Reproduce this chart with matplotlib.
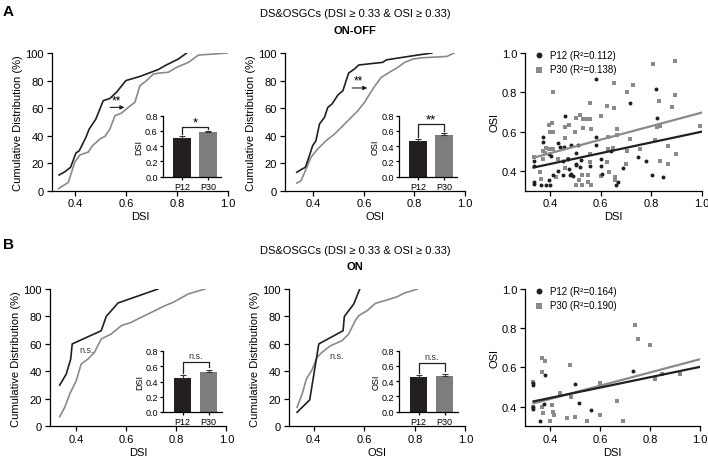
import matplotlib
matplotlib.use('Agg')
import matplotlib.pyplot as plt
import numpy as np

plt.rcParams['font.family'] = ['Liberation Sans', 'DejaVu Sans']
plt.rcParams['axes.linewidth'] = 0.9

BLACK = '#231f20'
GRAY = '#8a8a8a'
BAR_GRAY = '#7d7d7d'
W, H = 708, 460

# ---------------- Panel A (ON-OFF): cumulative distributions ----------------
a_dsi_p12_x = [0.338, 0.361, 0.383, 0.404, 0.417, 0.433, 0.443, 0.456, 0.469, 0.482,
               0.495, 0.511, 0.537, 0.563, 0.600, 0.655, 0.727, 0.753, 0.805, 0.838]
a_dsi_p12_y = [11.4, 13.8, 17, 27.4, 29, 35, 38.7, 44.8, 48.4, 52,
               58, 65.4, 67, 71.5, 80, 83, 88, 90.8, 95.6, 100]
a_dsi_p30_x = [0.335, 0.374, 0.400, 0.420, 0.452, 0.469, 0.498, 0.518, 0.537, 0.557, 0.583,
               0.609, 0.635, 0.655, 0.681, 0.707, 0.733, 0.766, 0.799, 0.845, 0.884, 1.0]
a_dsi_p30_y = [1.5, 6, 21, 26, 28, 32.7, 37.5, 39.5, 44.8, 54.5, 56.4,
               60.5, 64.2, 76.3, 80, 84.7, 85.5, 86, 89.6, 93.2, 98.5, 100]

a_osi_p12_x = [0.334, 0.351, 0.368, 0.384, 0.397, 0.410, 0.424, 0.444, 0.457, 0.474,
               0.497, 0.517, 0.530, 0.540, 0.563, 0.580, 0.675, 0.689, 0.795, 0.870]
a_osi_p12_y = [13.4, 15.3, 17, 25.4, 32.7, 36.3, 48.4, 53.3, 60.5, 63,
               69.5, 72.6, 80, 85.5, 88.4, 91.3, 93.2, 95, 98, 100]
a_osi_p30_x = [0.334, 0.351, 0.368, 0.390, 0.417, 0.450, 0.483, 0.517, 0.543, 0.576, 0.603,
               0.623, 0.643, 0.669, 0.702, 0.735, 0.762, 0.795, 0.830, 0.930, 0.958]
a_osi_p30_y = [5.6, 7.3, 14.5, 24.2, 30.3, 36.3, 41, 47.2, 52, 58, 64.2,
               70.2, 75.8, 82.3, 86, 89.6, 93.2, 95.6, 96.5, 97.5, 100]

# ---------------- Panel B (ON): cumulative distributions ----------------
b_dsi_p12_x = [0.334, 0.360, 0.378, 0.384, 0.500, 0.520, 0.567, 0.727]
b_dsi_p12_y = [30, 38, 49, 60, 69.6, 80, 89.8, 100]
b_dsi_p30_x = [0.334, 0.354, 0.374, 0.400, 0.420, 0.447, 0.473, 0.500, 0.540, 0.580,
               0.620, 0.660, 0.714, 0.754, 0.788, 0.848, 0.915]
b_dsi_p30_y = [7, 13.8, 23.5, 33.2, 45.4, 49, 53.9, 63.6, 67.2, 73.3,
               75.7, 79.4, 84.2, 87.8, 90.3, 96.4, 100]

b_osi_p12_x = [0.334, 0.384, 0.420, 0.516, 0.521, 0.558, 0.582]
b_osi_p12_y = [10.2, 19.2, 60, 69.6, 80, 89, 100]
b_osi_p30_x = [0.334, 0.354, 0.371, 0.393, 0.413, 0.433, 0.466, 0.512, 0.538, 0.564,
               0.578, 0.611, 0.644, 0.690, 0.730, 0.756, 0.810]
b_osi_p30_y = [13.8, 23.5, 34.5, 41, 50.2, 53.9, 58.7, 62.4, 67.2, 76.9,
               80.6, 84.2, 89.6, 92, 94.4, 96.9, 100]

# ---------------- inset bar charts (mean, sem) ----------------
groups = ['P12', 'P30']
a_dsi_mean = [0.51, 0.58]
a_dsi_sem = [0.02, 0.015]
a_osi_mean = [0.47, 0.55]
a_osi_sem = [0.02, 0.02]
b_dsi_mean = [0.44, 0.52]
b_dsi_sem = [0.04, 0.035]
b_osi_mean = [0.45, 0.47]
b_osi_sem = [0.03, 0.03]

# ---------------- scatter DSI vs OSI ----------------
a_p12_dsi = [0.583, 0.819, 0.715, 0.457, 0.824, 0.371, 0.430, 0.454, 0.483, 0.510,
             0.580, 0.580, 0.501, 0.437, 0.371, 0.640, 0.603, 0.689, 0.749, 0.779,
             0.802, 0.845, 0.662, 0.669, 0.607, 0.600, 0.556, 0.517, 0.501, 0.477,
             0.474, 0.450, 0.483, 0.490, 0.450, 0.430, 0.411, 0.397, 0.384, 0.400,
             0.364, 0.334, 0.334, 0.334, 0.334, 0.395, 0.404, 0.503, 0.520, 0.470]
a_p12_osi = [0.869, 0.815, 0.747, 0.679, 0.671, 0.573, 0.540, 0.522, 0.530, 0.530,
             0.573, 0.530, 0.493, 0.522, 0.547, 0.500, 0.463, 0.415, 0.471, 0.449,
             0.381, 0.370, 0.331, 0.344, 0.386, 0.424, 0.425, 0.420, 0.429, 0.381,
             0.412, 0.449, 0.386, 0.373, 0.381, 0.398, 0.378, 0.353, 0.331, 0.330,
             0.327, 0.344, 0.336, 0.449, 0.425, 0.488, 0.476, 0.437, 0.455, 0.460]
a_p30_dsi = [0.411, 0.652, 0.729, 0.703, 0.808, 0.894, 0.832, 0.894, 0.881, 0.556,
             0.625, 0.652, 0.603, 0.517, 0.501, 0.531, 0.543, 0.556, 0.531, 0.563,
             0.474, 0.397, 0.408, 0.400, 0.411, 0.457, 0.665, 0.665, 0.715, 0.821,
             0.835, 0.994, 0.868, 0.898, 0.629, 0.703, 0.755, 0.815, 0.334, 0.371,
             0.384, 0.395, 0.411, 0.430, 0.358, 0.364, 0.421, 0.457, 0.470, 0.514,
             0.527, 0.550, 0.501, 0.527, 0.550, 0.563, 0.603, 0.633, 0.658, 0.658,
             0.559, 0.556, 0.625, 0.627, 0.650, 0.702, 0.835, 0.868, 0.380, 0.370,
             0.460, 0.500]
a_p30_osi = [0.804, 0.848, 0.835, 0.801, 0.945, 0.957, 0.754, 0.787, 0.725, 0.747,
             0.730, 0.720, 0.679, 0.683, 0.669, 0.662, 0.662, 0.662, 0.620, 0.615,
             0.635, 0.635, 0.645, 0.598, 0.598, 0.623, 0.615, 0.584, 0.564, 0.623,
             0.628, 0.628, 0.527, 0.488, 0.573, 0.500, 0.510, 0.556, 0.471, 0.463,
             0.517, 0.513, 0.513, 0.463, 0.395, 0.358, 0.370, 0.415, 0.463, 0.353,
             0.378, 0.381, 0.331, 0.331, 0.344, 0.331, 0.375, 0.395, 0.370, 0.353,
             0.488, 0.446, 0.446, 0.513, 0.517, 0.437, 0.449, 0.437, 0.490, 0.500,
             0.570, 0.600]
a_fit_x = [0.334, 1.0]
a_fit_p12 = [0.418, 0.600]
a_fit_p30 = [0.468, 0.697]
a_r2 = [0.112, 0.138]

b_p12_dsi = [0.330, 0.330, 0.330, 0.330, 0.360, 0.377, 0.381, 0.498, 0.515, 0.565, 0.733]
b_p12_osi = [0.519, 0.512, 0.397, 0.388, 0.329, 0.414, 0.563, 0.515, 0.417, 0.383, 0.583]
b_p30_dsi = [0.330, 0.330, 0.368, 0.381, 0.368, 0.368, 0.370, 0.400, 0.408, 0.411,
             0.416, 0.438, 0.467, 0.480, 0.485, 0.498, 0.548, 0.599, 0.599, 0.666,
             0.693, 0.740, 0.750, 0.800, 0.820, 0.847, 0.920]
b_p30_osi = [0.524, 0.397, 0.647, 0.634, 0.575, 0.400, 0.366, 0.329, 0.410, 0.371,
             0.358, 0.468, 0.342, 0.612, 0.451, 0.349, 0.329, 0.519, 0.358, 0.427,
             0.329, 0.815, 0.747, 0.714, 0.541, 0.566, 0.566]
b_fit_x = [0.334, 1.0]
b_fit_p12 = [0.427, 0.603]
b_fit_p30 = [0.417, 0.642]
b_r2 = [0.164, 0.190]


def px_axes(fig, x0, x1, ytop, ybot):
    # axes rectangle given in reference pixel coordinates
    return fig.add_axes([x0 / W, (H - ybot) / H, (x1 - x0) / W, (ybot - ytop) / H])


def style(ax, fs=8):
    for s in ['top', 'right']:
        ax.spines[s].set_visible(False)
    ax.tick_params(labelsize=fs, length=3.5, width=0.9, pad=2)


def cdf_panel(ax, x12, y12, x30, y30, xlab, xmin):
    ax.plot(x30, y30, color=GRAY, lw=1.2)
    ax.plot(x12, y12, color=BLACK, lw=1.2)
    ax.set_xlim(xmin, 1.0)
    ax.set_ylim(0, 100)
    ax.set_xticks([0.4, 0.6, 0.8, 1.0])
    ax.set_xticklabels(['0.4', '0.6', '0.8', '1.0'])
    ax.set_yticks(range(0, 101, 20))
    ax.set_xlabel(xlab, fontsize=8, labelpad=2)
    ax.set_ylabel('Cumulative Distribution (%)', fontsize=8, labelpad=2)
    style(ax)


def arrow_mark(ax, x0, x1, y, text):
    ax.annotate('', xy=(x1, y), xytext=(x0, y),
                arrowprops=dict(arrowstyle='-|>', color=BLACK, lw=0.8, mutation_scale=6))
    ax.text((x0 + x1) / 2 - 0.005, y + 1, text, fontsize=8.5, ha='center', va='bottom')


def inset(fig, cx, ybot, means, sems, ylab, sig, top):
    x0 = cx - 0.75 * 26
    ax = px_axes(fig, x0, x0 + 2.25 * 26, ybot - 61, ybot)
    xs = np.arange(len(groups))
    ax.bar(xs, means, width=0.68, color=[BLACK, BAR_GRAY])
    for x, m, e in zip(xs, means, sems):
        ax.errorbar(x, m, yerr=[[0], [e]], color='#333333', capsize=2, lw=0.8, capthick=0.8)
    ax.set_xlim(-0.75, 1.5)
    ax.set_ylim(0, 0.8)
    ax.set_yticks(np.arange(0, 0.81, 0.2))
    ax.set_yticklabels(['%.1f' % v for v in np.arange(0, 0.81, 0.2)])
    ax.set_xticks(xs)
    ax.set_xticklabels(groups)
    ax.set_ylabel(ylab, fontsize=6.5, labelpad=1)
    style(ax, fs=6.5)
    ax.tick_params(length=2.5, pad=1)
    l0 = means[0] + sems[0] + 0.03
    l1 = means[1] + sems[1] + 0.03
    ax.plot([0, 0, 1, 1], [l0, top, top, l1], color=BLACK, lw=0.9, clip_on=False)
    if sig == 'n.s.':
        ax.text(0.5, top + 0.03, sig, fontsize=6.5, ha='center', va='bottom', color='#333333')
    else:
        ax.text(0.5, top - 0.02, sig, fontsize=9.5, ha='center', va='bottom')


def scatter_panel(ax, d12, o12, d30, o30, fx, f12, f30, r2):
    h30 = ax.scatter(d30, o30, s=8, marker='s', color=GRAY, lw=0, zorder=2)
    h12 = ax.scatter(d12, o12, s=8, marker='o', color=BLACK, lw=0, zorder=3)
    ax.plot(fx, f30, color=GRAY, lw=1.6, zorder=4)
    ax.plot(fx, f12, color=BLACK, lw=1.6, zorder=5)
    ax.set_xlim(0.3, 1.0)
    ax.set_ylim(0.3, 1.0)
    ax.set_xticks([0.4, 0.6, 0.8, 1.0])
    ax.set_xticklabels(['0.4', '0.6', '0.8', '1.0'])
    ax.set_yticks([0.4, 0.6, 0.8, 1.0])
    ax.set_yticklabels(['0.4', '0.6', '0.8', '1.0'])
    ax.set_xlabel('DSI', fontsize=8, labelpad=2)
    ax.set_ylabel('OSI', fontsize=8, labelpad=2)
    style(ax)
    ax.legend([h12, h30], ['P12 (R²=%.3f)' % r2[0], 'P30 (R²=%.3f)' % r2[1]],
              loc='upper left', frameon=False, fontsize=7, markerscale=1.5,
              handletextpad=0.1, borderaxespad=0.0, borderpad=0.1, labelspacing=0.45,
              bbox_to_anchor=(0.02, 1.03))


fig = plt.figure(figsize=(W / 100, H / 100), dpi=100)

# titles and panel letters
fig.text(8 / W, 1 - 12 / H, 'A', fontsize=11, fontweight='bold', ha='center', va='center')
fig.text(8 / W, 1 - 245 / H, 'B', fontsize=11, fontweight='bold', ha='center', va='center')
for ytitle, ysub, sub in [(14, 30.5, 'ON-OFF'), (251, 267, 'ON')]:
    fig.text(355 / W, 1 - ytitle / H, 'DS&OSGCs (DSI ≥ 0.33 & OSI ≥ 0.33)',
             fontsize=8, ha='center', va='center')
    fig.text(355 / W, 1 - ysub / H, sub, fontsize=8, fontweight='bold', ha='center', va='center')

# ---- A ----
ax = px_axes(fig, 51.7, 228, 54, 191.7)
cdf_panel(ax, a_dsi_p12_x, a_dsi_p12_y, a_dsi_p30_x, a_dsi_p30_y, 'DSI', 0.309)
arrow_mark(ax, 0.527, 0.605, 60.5, '**')
inset(fig, 182, 177.7, a_dsi_mean, a_dsi_sem, 'DSI', '*', 0.65)

ax = px_axes(fig, 284.7, 464.6, 54, 191.7)
cdf_panel(ax, a_osi_p12_x, a_osi_p12_y, a_osi_p30_x, a_osi_p30_y, 'OSI', 0.286)
arrow_mark(ax, 0.543, 0.625, 74.6, '**')
inset(fig, 418.3, 177.7, a_osi_mean, a_osi_sem, 'OSI', '**', 0.69)

ax = px_axes(fig, 525, 701.7, 54, 191.7)
scatter_panel(ax, a_p12_dsi, a_p12_osi, a_p30_dsi, a_p30_osi, a_fit_x, a_fit_p12, a_fit_p30, a_r2)

# ---- B ----
ax = px_axes(fig, 49.7, 226.3, 290, 427.3)
cdf_panel(ax, b_dsi_p12_x, b_dsi_p12_y, b_dsi_p30_x, b_dsi_p30_y, 'DSI', 0.294)
ax.text(0.44, 55.6, 'n.s.', fontsize=6.5, ha='center', va='center', color='#333333')
inset(fig, 182.5, 413, b_dsi_mean, b_dsi_sem, 'DSI', 'n.s.', 0.65)

ax = px_axes(fig, 288.7, 465.5, 290, 427.3)
cdf_panel(ax, b_osi_p12_x, b_osi_p12_y, b_osi_p30_x, b_osi_p30_y, 'OSI', 0.301)
ax.text(0.489, 51.4, 'n.s.', fontsize=6.5, ha='center', va='center', color='#333333')
inset(fig, 418.5, 412.7, b_osi_mean, b_osi_sem, 'OSI', 'n.s.', 0.635)

ax = px_axes(fig, 525, 700, 290, 427.3)
scatter_panel(ax, b_p12_dsi, b_p12_osi, b_p30_dsi, b_p30_osi, b_fit_x, b_fit_p12, b_fit_p30, b_r2)

fig.savefig('out.png', dpi=100, facecolor='white')
